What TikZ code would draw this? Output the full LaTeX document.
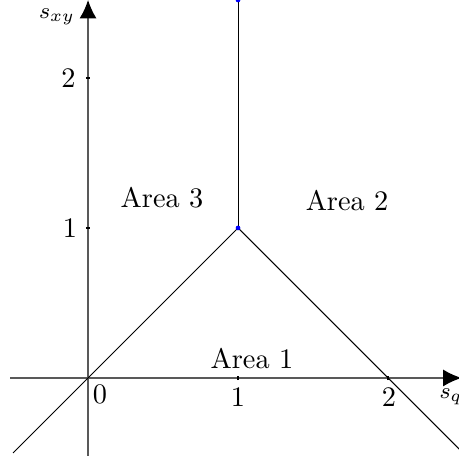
\documentclass[tikz,border=0pt]{standalone}
\usetikzlibrary{arrows.meta}
\begin{document}
\begin{tikzpicture}[x=53pt,y=53pt,
  axis/.style={line width=0.45pt,black!65,-{Latex[length=6.5pt,width=6pt,black]}},
  bound/.style={line width=0.35pt,black},
  dot/.style={circle,fill=blue,inner sep=0pt,minimum size=1.6pt},
  lbl/.style={inner sep=0pt},
  tickmark/.style={line width=0.4pt,black}]
\useasboundingbox (-0.587,-0.547) rectangle (2.473,2.52);
% axes
\coordinate (xs) at (-0.52,0);
\coordinate (xe) at (2.49,0);
\coordinate (ys) at (0,-0.52);
\coordinate (ye) at (0,2.52);
\draw[axis] (xs) -- (xe);
\draw[axis] (ys) -- (ye);
% ticks
\foreach \i in {1,2} {
  \draw[tickmark] (\i,-0.015) -- (\i,0.015);
  \draw[tickmark] (-0.015,\i) -- (0.015,\i);
}
% boundary lines
\coordinate (bl) at (-0.5,-0.5);
\coordinate (br) at (2.5,-0.5);
\node[dot] (p) at (1,1) {};
\node[dot] (t) at (1,2.52) {};
\draw[bound] (bl) -- (p.center) -- (br);
\draw[bound] (p.center) -- (t.center);
\node[dot] at (1,1) {};
\node[dot] at (1,2.52) {};
% labels
\node[lbl] (l0) at (0.08,-0.11) {0};
\node[lbl] (lx1) at (1,-0.13) {1};
\node[lbl] (lx2) at (2.007,-0.13) {2};
\node[lbl] (lsq) at (2.42,-0.125) {\footnotesize $s_q$};
\node[lbl] (ly1) at (-0.12,1.0) {1};
\node[lbl] (ly2) at (-0.13,2.0) {2};
\node[lbl] (lsxy) at (-0.207,2.41) {\footnotesize $s_{xy}$};
\node[lbl] (a3) at (0.493,1.2) {Area 3};
\node[lbl] (a2) at (1.727,1.18) {Area 2};
\node[lbl] (a1) at (1.093,0.13) {Area 1};
\end{tikzpicture}
\end{document}
